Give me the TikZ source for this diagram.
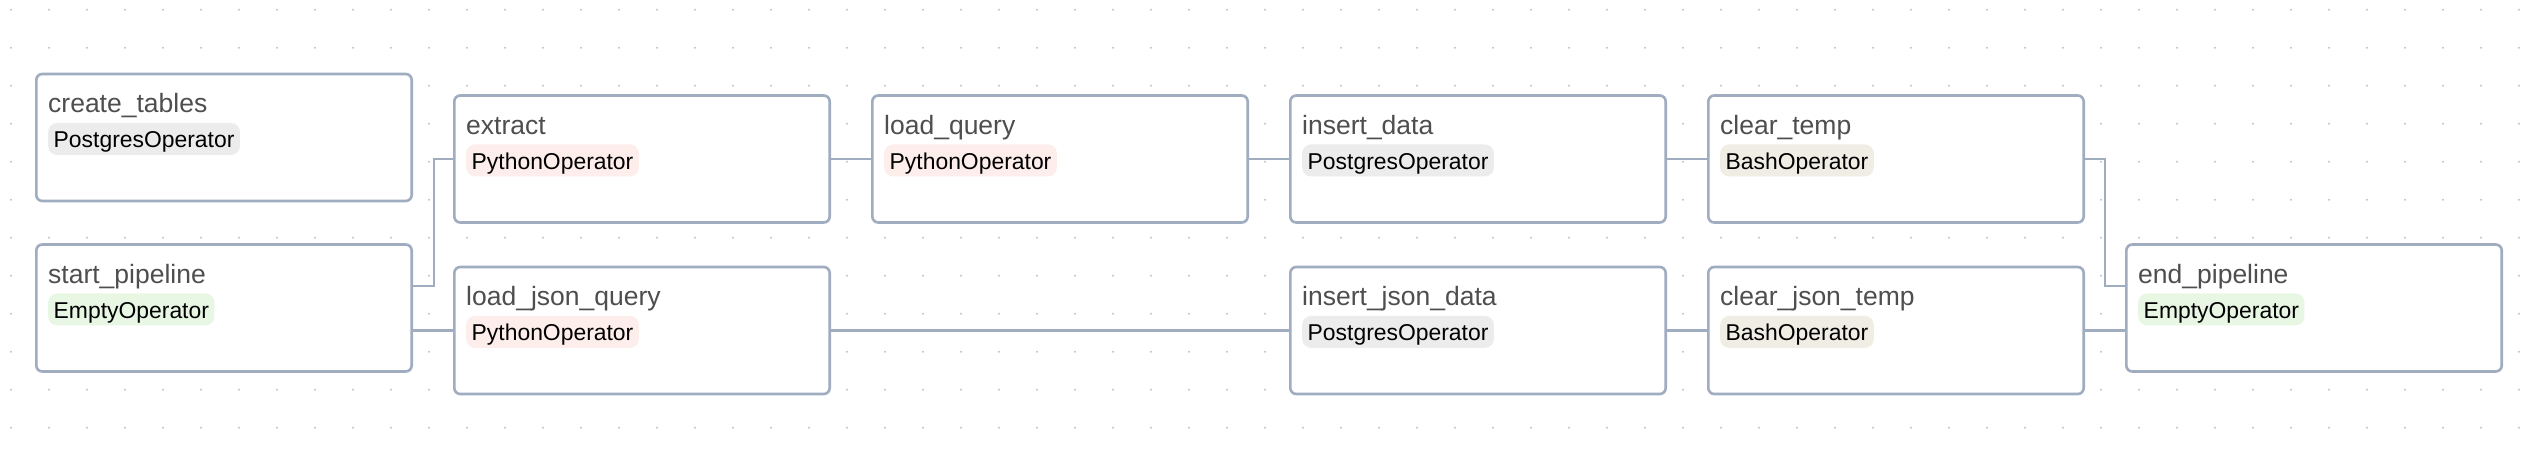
\documentclass[tikz,border=0pt]{standalone}
\usepackage{fontspec}
\setmainfont{Liberation Sans}
\usepackage{tikz}
\usetikzlibrary{positioning}

\definecolor{edgec}{RGB}{160,172,192}
\definecolor{namec}{RGB}{78,78,78}
\definecolor{dotc}{RGB}{196,196,196}
\definecolor{pgc}{RGB}{236,236,236}
\definecolor{pyc}{RGB}{253,238,235}
\definecolor{emc}{RGB}{232,246,228}
\definecolor{bashc}{RGB}{240,237,229}

\begin{document}
\begin{tikzpicture}[x=1pt,y=-1pt,node distance=418pt]
\tikzstyle{task}=[draw=edgec,fill=white,rounded corners=6pt,line width=2.6pt,minimum width=375.4pt,minimum height=127pt,inner sep=0pt]
\tikzstyle{tname}=[text=namec,inner sep=0pt,font=\fontsize{26.5}{30}\selectfont]
\tikzstyle{badge}=[text=black,rounded corners=9pt,inner xsep=5.5pt,inner ysep=4pt,text height=21pt,text depth=3pt,font=\fontsize{22.9}{26}\selectfont]
\tikzstyle{pg}=[fill=pgc]
\tikzstyle{py}=[fill=pyc]
\tikzstyle{em}=[fill=emc]
\tikzstyle{bash}=[fill=bashc]
\tikzstyle{wire}=[draw=edgec,line width=2.5pt]

\useasboundingbox (0,0) rectangle (2546,450);
% dotted grid
\foreach \i in {0,...,66}
  \foreach \j in {0,...,11}
    \fill[dotc] (11+38*\i,9.7+38*\j) circle (1.1pt);

% tasks
\node[task] (create) at (224,137.5) {};
\node[task] (start) at (224,308) {};
\node[task] (extract) at (642,159) {};
\node[task,right of=extract] (loadq) {};
\node[task,right of=loadq] (insert) {};
\node[task,right of=insert] (clear) {};
\node[task] (loadjq) at (642,330.5) {};
\node[task,right of=loadjq,node distance=836pt] (insertj) {};
\node[task,right of=insertj] (clearj) {};
\node[task] (endp) at (2314,308) {};

\foreach \n/\t/\s/\o in {create/create\_tables/pg/PostgresOperator,
    start/start\_pipeline/em/EmptyOperator,
    extract/extract/py/PythonOperator,
    loadq/load\_query/py/PythonOperator,
    insert/insert\_data/pg/PostgresOperator,
    clear/clear\_temp/bash/BashOperator,
    loadjq/load\_json\_query/py/PythonOperator,
    insertj/insert\_json\_data/pg/PostgresOperator,
    clearj/clear\_json\_temp/bash/BashOperator,
    endp/end\_pipeline/em/EmptyOperator}
{
  \node[tname,anchor=base west] (\n-name) at ([shift={(13,40)}]\n.north west) {\t};
  \node[badge,\s,anchor=north west] (\n-op) at ([shift={(13,50)}]\n.north west) {\o};
}

% dependencies
\draw[wire] ([yshift=22pt]start.east) -- ++(21,0) |- (extract.west);
\draw[wire] (start.east |- loadjq.west) -- (loadjq.west);
\draw[wire] (extract.east) -- (loadq.west);
\draw[wire] (loadq.east) -- (insert.west);
\draw[wire] (insert.east) -- (clear.west);
\draw[wire] (loadjq.east) -- (insertj.west);
\draw[wire] (insertj.east) -- (clearj.west);
\draw[wire] (clear.east) -- ++(20,0) |- ([yshift=22pt]endp.west);
\draw[wire] (clearj.east) -- (clearj.east -| endp.west);
\end{tikzpicture}
\end{document}
